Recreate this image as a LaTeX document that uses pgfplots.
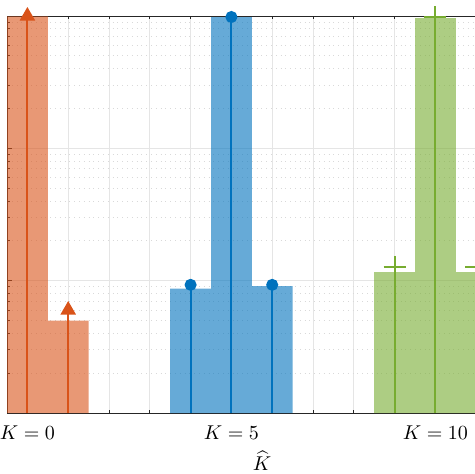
\documentclass[border=0pt]{standalone}
\usepackage{pgfplots}
\pgfplotsset{compat=1.18}
\definecolor{mOrange}{rgb}{0.850,0.325,0.098}
\definecolor{mBlue}{rgb}{0,0.447,0.741}
\definecolor{mGreen}{rgb}{0.466,0.674,0.188}
\definecolor{axgray}{rgb}{0.15,0.15,0.15}
\begin{document}
\begin{tikzpicture}
\begin{axis}[
  scale only axis,
  width=255pt, height=198.5pt,
  xmin=-0.5, xmax=12,
  ymode=log, ymin=1e-3, ymax=1,
  log origin=infty,
  clip=false,
  axis line style={axgray, line width=0.4pt},
  xtick={0,5,10},
  xticklabels={$K=0$,$K=5$,$K=10$},
  minor x tick num=4,
  xticklabel style={yshift=-3pt},
  ytick={1e-3,1e-2,1e-1,1},
  yticklabels={},
  major tick length=2.5pt, minor tick length=1.5pt,
  tick style={axgray, line width=0.4pt},
  xmajorgrids, xminorgrids, ymajorgrids, yminorgrids,
  major grid style={gray!20, solid, line width=0.4pt},
  minor grid style={gray!30, dotted, line width=0.4pt},
  minor x grid style={gray!20, solid, line width=0.4pt},
  xlabel={$\widehat{K}$},
  xlabel style={yshift=1pt},
]
% bars (PMF)
\addplot[ybar, bar width=1, bar shift=0pt, draw=none, fill=mOrange, fill opacity=0.6]
  coordinates {(0,0.995) (1,0.0050)};
\addplot[ybar, bar width=1, bar shift=0pt, draw=none, fill=mBlue, fill opacity=0.6]
  coordinates {(4,0.0087) (5,0.982) (6,0.0091)};
\addplot[ybar, bar width=1, bar shift=0pt, draw=none, fill=mGreen, fill opacity=0.6]
  coordinates {(9,0.0116) (10,0.962) (11,0.0116)};
% stems (estimates)
\addplot[ycomb, mOrange, line width=1pt, mark=triangle*, mark size=3.5pt, mark options={fill=mOrange}]
  coordinates {(0,1.0) (1,0.0060)};
\addplot[ycomb, mBlue, line width=1pt, mark=*, mark size=2.5pt, mark options={fill=mBlue}]
  coordinates {(4,0.0093) (5,0.983) (6,0.0093)};
\addplot[ycomb, mGreen, line width=1pt, mark=+, mark size=5.5pt]
  coordinates {(9,0.0127) (10,0.975) (11,0.0127)};
\end{axis}
\pgfresetboundingbox
\path[use as bounding box] (-3.5pt,-30.5pt) rectangle (233.5pt,206.5pt);
\end{tikzpicture}
\end{document}
